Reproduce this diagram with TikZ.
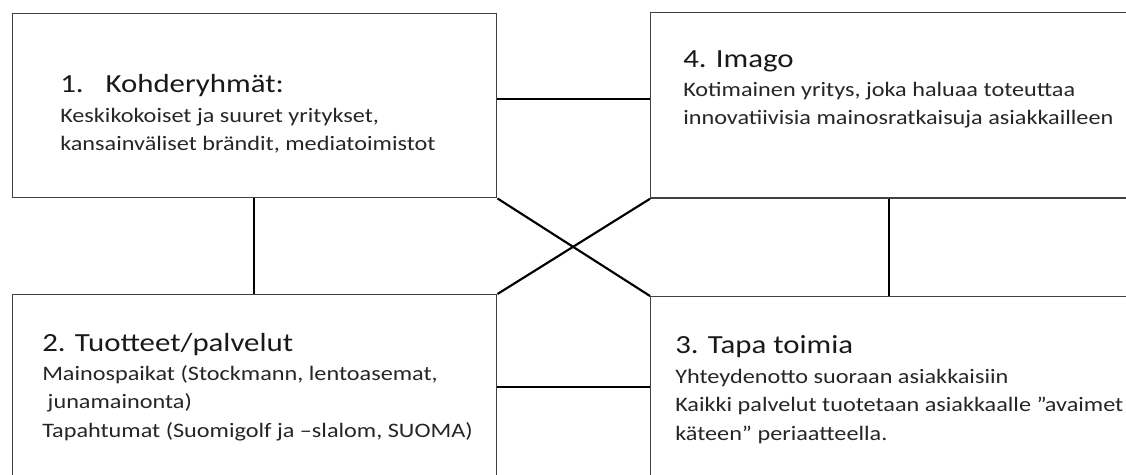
\documentclass[tikz,border=0pt]{standalone}
\usepackage{fontspec}
\setmainfont{Carlito}[FakeStretch=1.18]
\usepackage{tikz}

\tikzset{
  laatikko/.style={draw=black!75, line width=1.1pt, fill=white, anchor=north west, inner sep=0pt},
  yhteys/.style={draw=black, line width=1.6pt},
  otsikko/.style={anchor=base west, inner sep=0pt, text=black!90, font=\fontsize{19.6}{23}\selectfont},
  kuvaus/.style={anchor=base west, inner sep=0pt, align=left, text=black!85, font=\fontsize{15.4}{21.2}\selectfont},
}

\begin{document}
\begin{tikzpicture}[x=0.75pt,y=0.75pt,yscale=-1,xscale=1]
\clip (0,0) rectangle (1126,474);

%Shape: Rectangles
\node[laatikko, minimum width=363pt, minimum height=138pt] (kohde) at (12,13) {};
\node[laatikko, minimum width=368pt, minimum height=139pt] (imago) at (650,12) {};
\node[laatikko, minimum width=363pt, minimum height=147pt] (tuote) at (12,294) {};
\node[laatikko, minimum width=368pt, minimum height=146pt] (tapa) at (650,296) {};

%Connector heights
\coordinate (ylalinja) at (574,99);
\coordinate (alalinja) at (574,387);
\coordinate (vasenlinja) at (254,245);
\coordinate (oikealinja) at (889,245);

%Straight Lines
\draw[yhteys] (kohde.east |- ylalinja) -- (imago.west |- ylalinja);
\draw[yhteys] (tuote.east |- alalinja) -- (tapa.west |- alalinja);
\draw[yhteys] (kohde.south -| vasenlinja) -- (tuote.north -| vasenlinja);
\draw[yhteys] (imago.south -| oikealinja) -- (tapa.north -| oikealinja);
\draw[yhteys] (kohde.south east) -- (tapa.north west);
\draw[yhteys] (imago.south west) -- (tuote.north east);

% Text Node (base = last line)
\node[otsikko] (kohdeotsikko) at (60,93) {\makebox[34pt][l]{1.}Kohderyhmät:};
\node[kuvaus] (kohdeteksti) at (60,151) {Keskikokoiset ja suuret yritykset,\\kansainväliset brändit, mediatoimistot};
% Text Node
\node[otsikko] (imagootsikko) at (683,68) {4. Imago};
\node[kuvaus] (imagoteksti) at (683,125) {Kotimainen yritys, joka haluaa toteuttaa\\innovatiivisia mainosratkaisuja asiakkailleen};
% Text Node
\node[otsikko] (tuoteotsikko) at (42,351) {2. Tuotteet/palvelut};
\node[kuvaus] (tuoteteksti) at (42,437) {Mainospaikat (Stockmann, lentoasemat,\\\ junamainonta)\\Tapahtumat (Suomigolf ja –slalom, SUOMA)};
% Text Node
\node[otsikko] (tapaotsikko) at (675,353) {3. Tapa toimia};
\node[kuvaus] (tapateksti) at (675,440) {Yhteydenotto suoraan asiakkaisiin\\Kaikki palvelut tuotetaan asiakkaalle ”avaimet\\käteen” periaatteella.};
\end{tikzpicture}
\end{document}
